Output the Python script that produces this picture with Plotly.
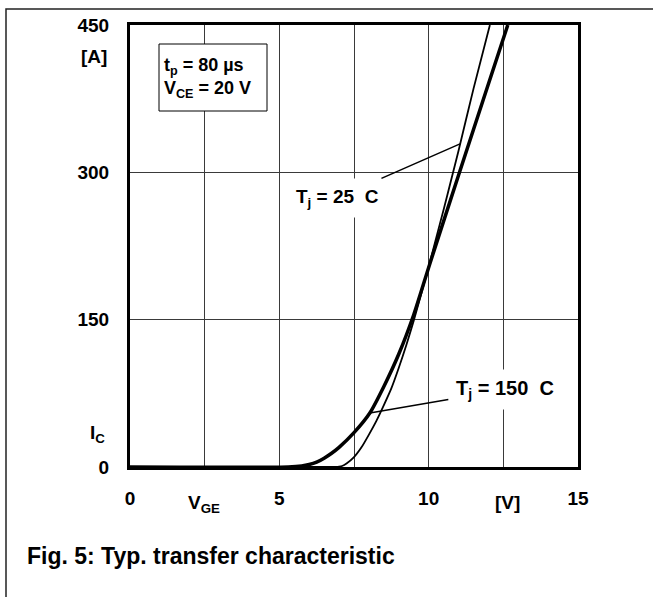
import plotly.graph_objects as go

# ---- data ----
vge_25 = [0, 6.9, 7.0, 7.1, 7.25, 7.5, 7.75, 8.0, 8.25, 8.5, 8.75, 9.0, 9.25, 9.5, 9.75,
          10.0, 10.25, 10.5, 10.75, 11.0, 11.5, 12.05]
ic_25 = [0, 0, 0.3, 1, 3.5, 10, 20, 33, 47, 63, 80, 101, 124, 149, 176,
         204, 233, 262, 292, 322, 385, 450]

vge_150 = [0, 5.3, 5.75, 6.0, 6.25, 6.5, 6.75, 7.0, 7.5, 8.03, 8.5, 9.0, 9.5, 10.04, 11.0, 12.0, 12.65]
ic_150 = [0, 0, 1, 2.5, 5, 9, 14, 20, 35, 55, 82, 115, 155, 207, 297, 390, 450]

x_tickvals = [0, 2.5, 5, 7.5, 10, 12.5, 15]
x_ticktext = ["0", "", "5", "", "10", "", "15"]
y_tickvals = [0, 150, 300, 450]
y_ticktext = ["0", "150", "300", "450"]

W, H = 653, 597
L, R, T, B = 130, 75, 25, 130
PW, PH = W - L - R, H - T - B


def px(x):
    return (x - L) / PW


def py(y):
    return (H - B - y) / PH


FONT = "Liberation Sans, Arial, Helvetica, sans-serif"

fig = go.Figure()
fig.add_trace(go.Scatter(x=vge_25, y=ic_25, mode="lines",
                         line=dict(color="black", width=1.8, shape="spline", smoothing=0.6),
                         showlegend=False, hoverinfo="skip"))
fig.add_trace(go.Scatter(x=vge_150, y=ic_150, mode="lines",
                         line=dict(color="black", width=3.5, shape="spline", smoothing=0.6),
                         showlegend=False, hoverinfo="skip"))

fig.update_layout(
    width=W, height=H,
    margin=dict(l=L, r=R, t=T, b=B, autoexpand=False),
    paper_bgcolor="white", plot_bgcolor="white",
    font=dict(family=FONT, color="black", size=19, weight="bold"),
    showlegend=False,
)
fig.update_xaxes(range=[0, 15], tickvals=x_tickvals, ticktext=x_ticktext,
                 showgrid=True, gridcolor="#3a3a3a", gridwidth=1,
                 showline=True, linecolor="black", linewidth=3, mirror=True,
                 ticks="outside", ticklen=12, tickcolor="rgba(0,0,0,0)",
                 zeroline=False, tickfont=dict(size=19, weight="bold"))
fig.update_yaxes(range=[0, 450], tickvals=y_tickvals, ticktext=y_ticktext,
                 showgrid=True, gridcolor="#3a3a3a", gridwidth=1,
                 showline=True, linecolor="black", linewidth=3, mirror=True,
                 ticks="outside", ticklen=14, tickcolor="rgba(0,0,0,0)",
                 zeroline=False, tickfont=dict(size=19, weight="bold"))

shapes = [
    # outer frame
    dict(type="rect", xref="paper", yref="paper",
         x0=px(6), x1=px(W + 20), y0=py(H + 20), y1=py(9),
         line=dict(color="#222", width=1.5), fillcolor="rgba(0,0,0,0)", layer="above"),
    # parameter box
    dict(type="rect", xref="paper", yref="paper",
         x0=px(159), x1=px(267), y0=py(111), y1=py(44),
         line=dict(color="black", width=1), fillcolor="white", layer="above"),
]

ann = [
    dict(text="t<sub>p</sub> = 80 µs<br>V<sub>CE</sub> = 20 V", xref="paper", yref="paper",
         x=px(162), y=py(78), xanchor="left", yanchor="middle", align="left",
         showarrow=False, font=dict(size=18)),
    dict(text="[A]", xref="paper", yref="paper", x=px(109), y=py(57),
         xanchor="right", yanchor="middle", showarrow=False, font=dict(size=19)),
    dict(text="I<sub>C</sub>", xref="paper", yref="paper", x=px(88), y=py(434),
         xanchor="left", yanchor="middle", showarrow=False, font=dict(size=19)),
    dict(text="V<sub>GE</sub>", xref="paper", yref="paper", x=px(186), y=py(504),
         xanchor="left", yanchor="middle", showarrow=False, font=dict(size=19)),
    dict(text="[V]", xref="paper", yref="paper", x=px(507), y=py(502),
         xanchor="center", yanchor="middle", showarrow=False, font=dict(size=19)),
    dict(text="Fig. 5: Typ. transfer characteristic", xref="paper", yref="paper",
         x=px(25), y=py(556), xanchor="left", yanchor="middle", showarrow=False,
         font=dict(size=23)),
    dict(text="T<sub>j</sub> = 25\u00a0\u00a0C", x=11.05, y=329, xref="x", yref="y",
         ax=-123, ay=54, showarrow=True, arrowhead=0, arrowwidth=1.5, arrowcolor="black",
         bgcolor="white", borderpad=7, font=dict(size=19)),
    dict(text="T<sub>j</sub> = 150\u00a0\u00a0C", x=8.03, y=55, xref="x", yref="y",
         ax=135, ay=-23, showarrow=True, arrowhead=0, arrowwidth=1.5, arrowcolor="black",
         bgcolor="white", borderpad=7, font=dict(size=20)),
]
fig.update_layout(shapes=shapes, annotations=ann)

fig.write_html("out.html", config={"displayModeBar": False},
               post_script="document.body.style.margin='0';document.body.style.overflow='hidden';")
